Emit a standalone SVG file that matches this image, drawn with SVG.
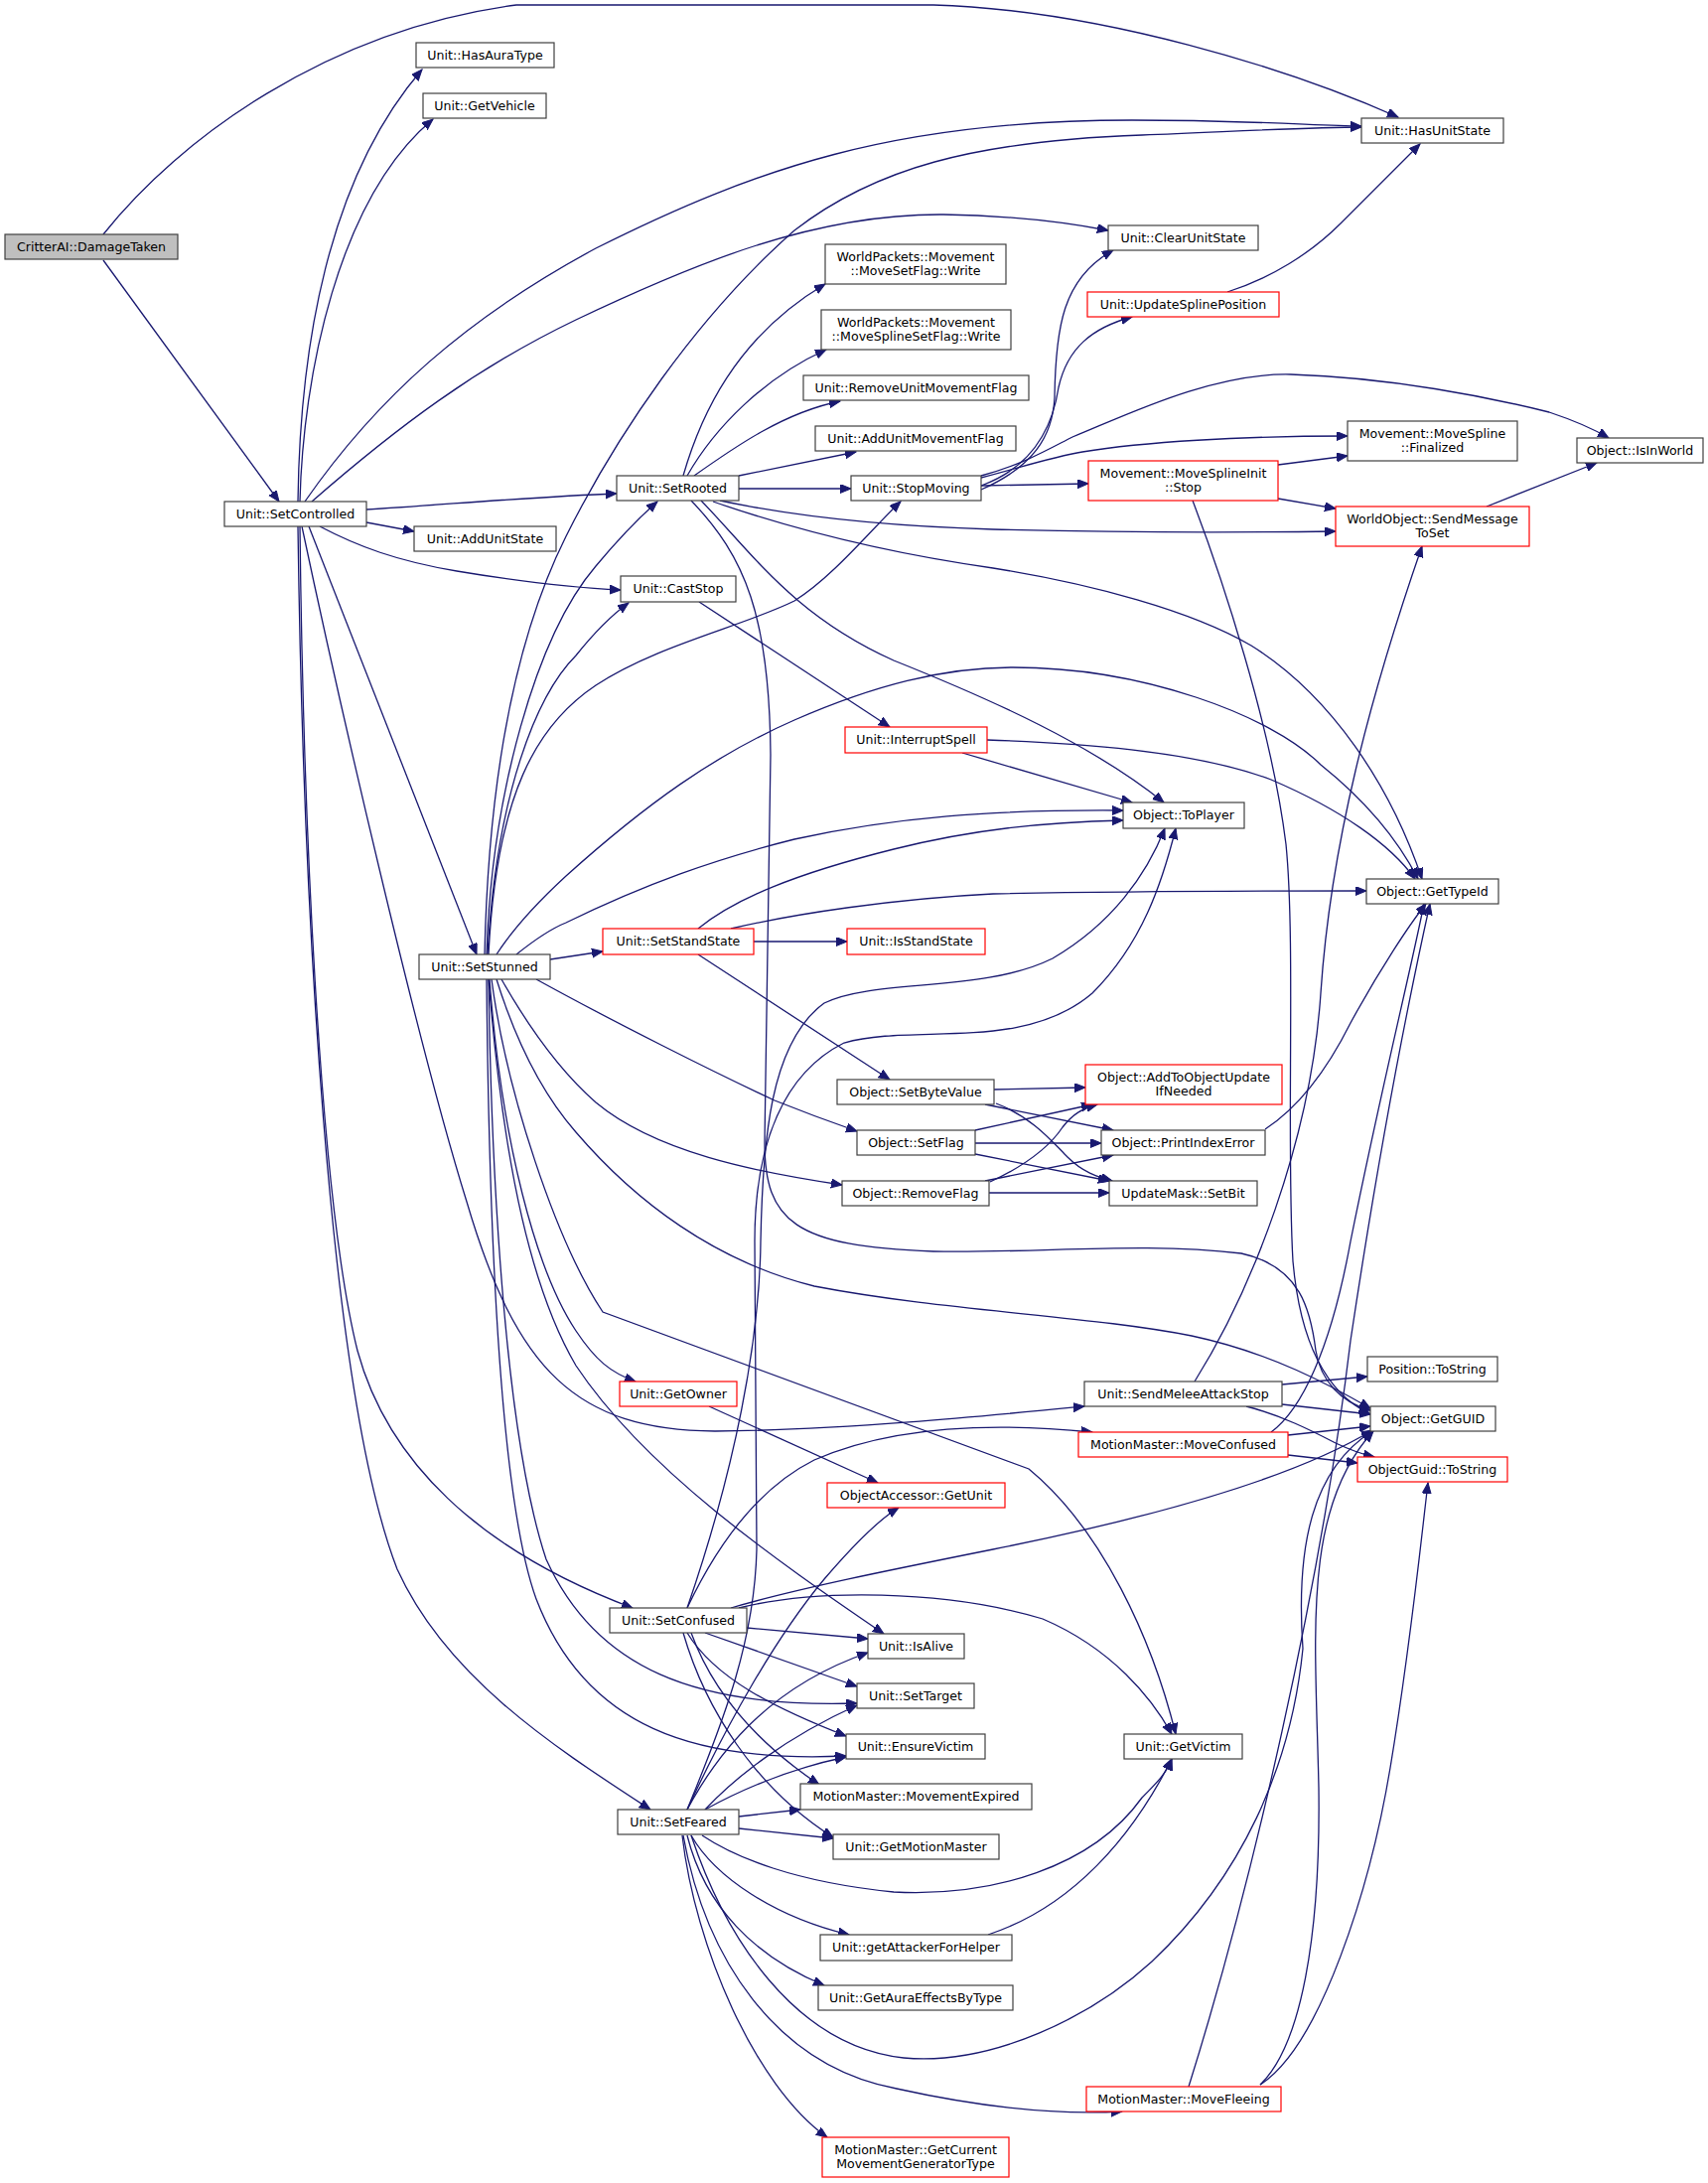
<svg xmlns="http://www.w3.org/2000/svg" width="1720" height="2198" viewBox="0 0 1720 2198">
<style>
.node rect{fill:#ffffff;stroke:#404040;stroke-width:1.2}
.node.red rect{stroke:#ff0000}
.node.root rect{fill:#bfbfbf}
.node text{font-family:"DejaVu Sans","Liberation Sans",sans-serif;font-size:12.6px;text-anchor:middle;fill:#000000}
#edges path{fill:none;stroke:#191970;stroke-width:1.3;marker-end:url(#arr)}
</style>
<defs>
<marker id="arr" markerUnits="userSpaceOnUse" markerWidth="12" markerHeight="10" refX="11" refY="4.5" orient="auto"><path d="M0,0 L11,4.5 L0,9 z" fill="#191970" stroke="#191970" stroke-width="1"/></marker>
</defs>
<rect width="1720" height="2198" fill="#ffffff"/>
<g id="edges">
<path d="M104,236 C180,140 330,30 520,5 L940,5 C1110,10 1300,70 1408,118"/>
<path d="M104,262 L281,505"/>
<path d="M300,505 C302,350 330,180 425,70"/>
<path d="M302,505 C305,380 340,200 436,120"/>
<path d="M307,505 C380,400 470,320 600,250 C760,170 900,121 1140,121 C1250,121 1320,126 1371,127"/>
<path d="M314,505 C400,430 480,370 580,322 C700,265 820,215 950,216 C1020,217 1080,225 1116,232"/>
<path d="M369,513 C450,508 540,500 621,497"/>
<path d="M369,526 L417,535"/>
<path d="M322,530 C360,550 400,565 460,575 C520,585 580,592 625,594"/>
<path d="M311,530 L480,961"/>
<path d="M302,530 C305,800 320,1200 360,1360 C390,1470 480,1560 637,1619"/>
<path d="M300,530 C305,900 330,1400 400,1580 C450,1690 560,1760 655,1822"/>
<path d="M304,530 C340,700 420,1050 470,1210 C520,1380 580,1440 720,1441 C850,1440 1000,1425 1092,1416"/>
<path d="M688,479 C705,420 740,340 831,286"/>
<path d="M692,479 C720,430 770,380 832,352"/>
<path d="M699,479 C740,450 790,415 846,404"/>
<path d="M744,479 L862,455"/>
<path d="M744,492 L857,492"/>
<path d="M725,504 C800,520 900,530 1000,533 C1150,537 1270,536 1345,535"/>
<path d="M718,505 C790,530 880,555 1000,572 C1100,588 1200,615 1260,650 C1340,700 1400,790 1432,885"/>
<path d="M706,504 C760,560 800,620 900,665 C1000,705 1100,750 1172,808"/>
<path d="M696,504 C750,560 775,620 776,760 L770,1150 C770,1230 800,1255 940,1260 C1050,1262 1150,1250 1250,1262 C1310,1275 1320,1320 1325,1360 C1330,1390 1350,1412 1380,1420"/>
<path d="M488,961 C492,780 520,640 570,540 C620,440 700,320 800,232 C880,170 980,142 1150,136 C1250,132 1320,128 1371,128"/>
<path d="M490,961 C495,800 540,640 600,570 C625,540 645,520 662,505"/>
<path d="M491,961 C500,800 540,700 580,660 C600,635 615,620 633,607"/>
<path d="M492,961 C500,800 540,730 600,690 C660,650 750,630 800,605 C840,580 880,530 907,505"/>
<path d="M500,961 C520,930 545,905 570,882 C650,810 720,760 800,725 C880,690 950,672 1020,672 C1150,672 1280,720 1330,770 C1380,810 1410,850 1428,885"/>
<path d="M520,961 C540,945 555,935 570,929 C650,890 720,865 800,845 C900,823 1000,815 1131,816"/>
<path d="M554,966 L607,958"/>
<path d="M540,986 C620,1030 720,1080 780,1108 C810,1120 840,1131 863,1139"/>
<path d="M505,986 C530,1030 560,1075 600,1110 C660,1160 760,1180 848,1193"/>
<path d="M500,986 C520,1050 545,1100 580,1140 C640,1210 720,1270 820,1295 C950,1320 1100,1325 1200,1345 C1280,1362 1340,1395 1380,1418"/>
<path d="M495,986 C510,1100 560,1250 607,1321 L1036,1479 C1110,1540 1160,1650 1184,1746"/>
<path d="M493,986 C505,1150 540,1280 580,1340 C600,1370 615,1382 640,1391"/>
<path d="M492,986 C505,1150 530,1290 580,1375 C650,1480 780,1570 890,1645"/>
<path d="M492,986 C495,1200 510,1450 550,1570 C600,1680 700,1720 863,1715"/>
<path d="M490,986 C492,1200 500,1500 540,1610 C590,1740 700,1775 852,1768"/>
<path d="M704,606 L896,732"/>
<path d="M969,758 L1140,808"/>
<path d="M994,745 C1080,748 1200,755 1280,785 C1350,815 1400,850 1425,885"/>
<path d="M759,948 L853,948"/>
<path d="M703,935 C740,905 800,880 900,855 C980,835 1050,828 1131,826"/>
<path d="M736,935 C800,920 900,905 1000,900 C1150,897 1280,897 1376,897"/>
<path d="M703,961 L896,1087"/>
<path d="M1001,1097 L1093,1095"/>
<path d="M992,1112 L1121,1138"/>
<path d="M1003,1111 C1040,1125 1060,1150 1075,1165 C1090,1180 1105,1185 1120,1189"/>
<path d="M982,1138 L1100,1112"/>
<path d="M982,1151 L1109,1151"/>
<path d="M982,1162 L1117,1189"/>
<path d="M997,1190 C1040,1170 1060,1150 1070,1135 C1080,1122 1090,1116 1105,1112"/>
<path d="M992,1189 L1121,1163"/>
<path d="M996,1201 L1117,1201"/>
<path d="M1274,1137 C1300,1120 1330,1090 1360,1030 C1390,975 1420,930 1436,910"/>
<path d="M988,493 C1040,470 1060,440 1062,400 C1063,330 1070,280 1121,252"/>
<path d="M988,489 C1040,470 1060,430 1066,390 C1075,350 1100,330 1140,319"/>
<path d="M988,481 C1030,470 1060,460 1090,455 C1150,445 1250,439 1357,439"/>
<path d="M988,479 C1030,468 1060,450 1080,440 C1130,420 1220,375 1300,377 C1400,380 1500,400 1560,415 C1590,425 1605,432 1620,441"/>
<path d="M988,489 L1096,487"/>
<path d="M1287,468 L1357,459"/>
<path d="M1287,502 L1345,512"/>
<path d="M1201,504 C1230,580 1280,730 1295,850 C1305,950 1295,1150 1302,1270 C1310,1360 1340,1405 1380,1424"/>
<path d="M1236,294 C1280,280 1320,255 1350,225 C1380,195 1410,165 1430,145"/>
<path d="M1497,510 L1608,466"/>
<path d="M1203,1391 C1260,1300 1320,1150 1330,1000 C1340,850 1380,700 1432,550"/>
<path d="M1291,1394 L1377,1386"/>
<path d="M1291,1414 L1380,1424"/>
<path d="M1255,1416 C1290,1425 1320,1440 1345,1453 C1360,1460 1375,1465 1384,1467"/>
<path d="M1280,1442 C1310,1420 1340,1360 1360,1250 C1390,1100 1420,980 1434,910"/>
<path d="M1297,1445 L1380,1436"/>
<path d="M1297,1465 L1367,1473"/>
<path d="M714,1416 L884,1493"/>
<path d="M692,1619 C720,1560 760,1500 820,1470 C900,1435 1000,1432 1100,1442"/>
<path d="M692,1619 C740,1480 765,1350 766,1250 C768,1150 775,1050 830,1010 C880,985 990,1000 1060,965 C1120,930 1155,880 1173,834"/>
<path d="M736,1619 C800,1600 900,1580 1000,1560 C1150,1530 1300,1490 1382,1440"/>
<path d="M744,1619 C820,1600 950,1600 1050,1630 C1120,1660 1160,1710 1180,1746"/>
<path d="M752,1639 L874,1650"/>
<path d="M710,1644 L863,1698"/>
<path d="M692,1644 C720,1690 780,1720 852,1748"/>
<path d="M696,1644 C720,1710 770,1760 825,1797"/>
<path d="M688,1644 C710,1720 760,1800 839,1850"/>
<path d="M692,1822 C730,1730 760,1650 762,1560 L760,1250 C760,1150 790,1080 850,1050 C920,1030 1030,1060 1100,1000 C1150,950 1170,890 1184,834"/>
<path d="M692,1822 C730,1740 780,1650 830,1590 C860,1555 885,1530 905,1518"/>
<path d="M692,1822 C720,1770 770,1700 874,1664"/>
<path d="M710,1822 C740,1790 790,1750 863,1717"/>
<path d="M710,1822 C750,1800 800,1780 852,1769"/>
<path d="M744,1829 L806,1822"/>
<path d="M744,1841 L839,1851"/>
<path d="M707,1848 C740,1870 800,1895 900,1905 C1000,1910 1100,1880 1150,1810 C1165,1795 1175,1785 1180,1771"/>
<path d="M696,1848 C730,1950 800,2060 910,2072 C1000,2080 1100,2030 1160,1975 C1250,1890 1300,1780 1312,1660 C1305,1560 1320,1480 1382,1441"/>
<path d="M696,1848 C720,1890 780,1930 855,1948"/>
<path d="M692,1848 C710,1920 760,1970 830,1999"/>
<path d="M688,1848 C710,1970 780,2080 903,2103 C980,2120 1060,2130 1130,2126"/>
<path d="M687,1848 C700,1960 760,2100 833,2152"/>
<path d="M995,1948 C1080,1920 1140,1850 1180,1771"/>
<path d="M1197,2101 C1260,1900 1330,1600 1360,1350 C1390,1150 1420,1000 1440,910"/>
<path d="M1269,2099 C1310,2060 1330,1950 1328,1800 C1325,1650 1310,1520 1383,1441"/>
<path d="M1269,2099 C1330,2060 1380,1900 1400,1780 C1420,1660 1430,1560 1438,1493"/>
</g>
<g id="n_root" class="node root"><rect x="5" y="236" width="174" height="25"/><text x="92" y="253">CritterAI::DamageTaken</text></g>
<g id="n_hasauratype" class="node"><rect x="419" y="43" width="139" height="25"/><text x="488.5" y="60">Unit::HasAuraType</text></g>
<g id="n_getvehicle" class="node"><rect x="426" y="94" width="124" height="25"/><text x="488" y="111">Unit::GetVehicle</text></g>
<g id="n_setcontrolled" class="node"><rect x="226" y="505" width="143" height="25"/><text x="297.5" y="522">Unit::SetControlled</text></g>
<g id="n_addunitstate" class="node"><rect x="417" y="530" width="143" height="25"/><text x="488.5" y="547">Unit::AddUnitState</text></g>
<g id="n_movesetflag" class="node"><rect x="831" y="246" width="182" height="40"/><text x="922" y="262.5">WorldPackets::Movement</text><text x="922" y="276.5">::MoveSetFlag::Write</text></g>
<g id="n_movesplinesetflag" class="node"><rect x="827" y="312" width="191" height="40"/><text x="922.5" y="328.5">WorldPackets::Movement</text><text x="922.5" y="342.5">::MoveSplineSetFlag::Write</text></g>
<g id="n_removeunitmovementflag" class="node"><rect x="809" y="378" width="227" height="25"/><text x="922.5" y="395">Unit::RemoveUnitMovementFlag</text></g>
<g id="n_addunitmovementflag" class="node"><rect x="821" y="429" width="202" height="25"/><text x="922" y="446">Unit::AddUnitMovementFlag</text></g>
<g id="n_setrooted" class="node"><rect x="621" y="479" width="123" height="25"/><text x="682.5" y="496">Unit::SetRooted</text></g>
<g id="n_stopmoving" class="node"><rect x="857" y="479" width="131" height="25"/><text x="922.5" y="496">Unit::StopMoving</text></g>
<g id="n_clearunitstate" class="node"><rect x="1116" y="227" width="151" height="25"/><text x="1191.5" y="244">Unit::ClearUnitState</text></g>
<g id="n_updatesplineposition" class="node red"><rect x="1095" y="294" width="193" height="25"/><text x="1191.5" y="311">Unit::UpdateSplinePosition</text></g>
<g id="n_movesplineinitstop" class="node red"><rect x="1096" y="464" width="191" height="40"/><text x="1191.5" y="480.5">Movement::MoveSplineInit</text><text x="1191.5" y="494.5">::Stop</text></g>
<g id="n_hasunitstate" class="node"><rect x="1371" y="119" width="143" height="25"/><text x="1442.5" y="136">Unit::HasUnitState</text></g>
<g id="n_finalized" class="node"><rect x="1357" y="424" width="171" height="40"/><text x="1442.5" y="440.5">Movement::MoveSpline</text><text x="1442.5" y="454.5">::Finalized</text></g>
<g id="n_isinworld" class="node"><rect x="1588" y="441" width="127" height="25"/><text x="1651.5" y="458">Object::IsInWorld</text></g>
<g id="n_sendmessagetoset" class="node red"><rect x="1345" y="510" width="195" height="40"/><text x="1442.5" y="526.5">WorldObject::SendMessage</text><text x="1442.5" y="540.5">ToSet</text></g>
<g id="n_setstunned" class="node"><rect x="422" y="961" width="132" height="25"/><text x="488" y="978">Unit::SetStunned</text></g>
<g id="n_caststop" class="node"><rect x="625" y="580" width="116" height="26"/><text x="683" y="597">Unit::CastStop</text></g>
<g id="n_interruptspell" class="node red"><rect x="851" y="732" width="143" height="26"/><text x="922.5" y="749">Unit::InterruptSpell</text></g>
<g id="n_toplayer" class="node"><rect x="1131" y="808" width="122" height="26"/><text x="1192" y="825">Object::ToPlayer</text></g>
<g id="n_setstandstate" class="node red"><rect x="607" y="935" width="152" height="26"/><text x="683" y="952">Unit::SetStandState</text></g>
<g id="n_isstandstate" class="node red"><rect x="853" y="935" width="139" height="26"/><text x="922.5" y="952">Unit::IsStandState</text></g>
<g id="n_setbytevalue" class="node"><rect x="843" y="1087" width="158" height="25"/><text x="922" y="1104">Object::SetByteValue</text></g>
<g id="n_addtoobjectupdate" class="node red"><rect x="1093" y="1072" width="198" height="40"/><text x="1192" y="1088.5">Object::AddToObjectUpdate</text><text x="1192" y="1102.5">IfNeeded</text></g>
<g id="n_gettypeid" class="node"><rect x="1376" y="885" width="133" height="25"/><text x="1442.5" y="902">Object::GetTypeId</text></g>
<g id="n_setflag" class="node"><rect x="863" y="1138" width="119" height="25"/><text x="922.5" y="1155">Object::SetFlag</text></g>
<g id="n_removeflag" class="node"><rect x="848" y="1189" width="148" height="25"/><text x="922" y="1206">Object::RemoveFlag</text></g>
<g id="n_printindexerror" class="node"><rect x="1109" y="1138" width="165" height="25"/><text x="1191.5" y="1155">Object::PrintIndexError</text></g>
<g id="n_setbit" class="node"><rect x="1117" y="1189" width="149" height="25"/><text x="1191.5" y="1206">UpdateMask::SetBit</text></g>
<g id="n_getowner" class="node red"><rect x="624" y="1391" width="118" height="25"/><text x="683" y="1408">Unit::GetOwner</text></g>
<g id="n_sendmeleeattackstop" class="node"><rect x="1092" y="1391" width="199" height="25"/><text x="1191.5" y="1408">Unit::SendMeleeAttackStop</text></g>
<g id="n_moveconfused" class="node red"><rect x="1086" y="1442" width="211" height="25"/><text x="1191.5" y="1459">MotionMaster::MoveConfused</text></g>
<g id="n_getunit" class="node red"><rect x="833" y="1493" width="179" height="25"/><text x="922.5" y="1510">ObjectAccessor::GetUnit</text></g>
<g id="n_setconfused" class="node"><rect x="614" y="1619" width="138" height="25"/><text x="683" y="1636">Unit::SetConfused</text></g>
<g id="n_isalive" class="node"><rect x="874" y="1645" width="97" height="25"/><text x="922.5" y="1662">Unit::IsAlive</text></g>
<g id="n_positiontostring" class="node"><rect x="1377" y="1366" width="131" height="25"/><text x="1442.5" y="1383">Position::ToString</text></g>
<g id="n_getguid" class="node"><rect x="1380" y="1416" width="126" height="25"/><text x="1443" y="1433">Object::GetGUID</text></g>
<g id="n_objectguidtostring" class="node red"><rect x="1367" y="1467" width="151" height="25"/><text x="1442.5" y="1484">ObjectGuid::ToString</text></g>
<g id="n_settarget" class="node"><rect x="863" y="1695" width="118" height="25"/><text x="922" y="1712">Unit::SetTarget</text></g>
<g id="n_ensurevictim" class="node"><rect x="852" y="1746" width="140" height="25"/><text x="922" y="1763">Unit::EnsureVictim</text></g>
<g id="n_movementexpired" class="node"><rect x="806" y="1796" width="233" height="26"/><text x="922.5" y="1813">MotionMaster::MovementExpired</text></g>
<g id="n_setfeared" class="node"><rect x="622" y="1822" width="122" height="25"/><text x="683" y="1839">Unit::SetFeared</text></g>
<g id="n_getmotionmaster" class="node"><rect x="839" y="1847" width="167" height="25"/><text x="922.5" y="1864">Unit::GetMotionMaster</text></g>
<g id="n_getvictim" class="node"><rect x="1132" y="1746" width="119" height="25"/><text x="1191.5" y="1763">Unit::GetVictim</text></g>
<g id="n_getattackerforhelper" class="node"><rect x="826" y="1948" width="193" height="26"/><text x="922.5" y="1965">Unit::getAttackerForHelper</text></g>
<g id="n_getauraeffectsbytype" class="node"><rect x="824" y="1999" width="196" height="25"/><text x="922" y="2016">Unit::GetAuraEffectsByType</text></g>
<g id="n_movefleeing" class="node red"><rect x="1094" y="2101" width="196" height="25"/><text x="1192" y="2118">MotionMaster::MoveFleeing</text></g>
<g id="n_getcurrentmgt" class="node red"><rect x="828" y="2152" width="188" height="40"/><text x="922" y="2168.5">MotionMaster::GetCurrent</text><text x="922" y="2182.5">MovementGeneratorType</text></g>
</svg>
